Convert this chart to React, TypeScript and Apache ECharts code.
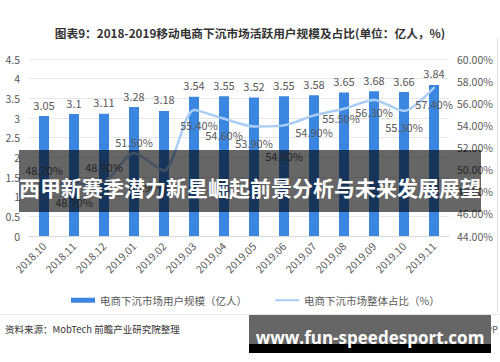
import React, { useEffect, useRef } from 'react';
import * as echarts from 'echarts';

const categories = ['2018.10', '2018.11', '2018.12', '2019.01', '2019.02', '2019.03', '2019.04', '2019.05', '2019.06', '2019.07', '2019.08', '2019.09', '2019.10', '2019.11'];
const userScale = [3.05, 3.1, 3.11, 3.28, 3.18, 3.54, 3.55, 3.52, 3.55, 3.58, 3.65, 3.68, 3.66, 3.84];
const shareRatio = [48.7, 48.7, 48.9, 51.5, 49.9, 55.4, 54.6, 53.9, 54.0, 54.9, 55.5, 56.3, 55.3, 57.4];
const barName = '电商下沉市场用户规模（亿人）';
const lineName = '电商下沉市场整体占比（%）';
const titleText = '图表9：2018-2019移动电商下沉市场活跃用户规模及占比(单位：亿人，%)';
const overlayText = '西甲新赛季潜力新星崛起前景分析与未来发展展望';
const bannerText = 'www.fun-speedesport.com';
const sourceText = '资料来源：MobTech 前瞻产业研究院整理';
const brandText = '@前瞻经济学人APP';

// label layout for line points (style only)
const lineLabelStyle: any[] = [
  { position: 'top', distance: 8 },
  { position: 'bottom', distance: 11 },
  { position: 'top', distance: 8 },
  { position: 'top', distance: 5 },
  { position: 'bottom', distance: 8, offset: [-16, 2] },
  { position: 'bottom', distance: 9, offset: [5, 0] },
  { position: 'bottom', distance: 10 },
  { position: 'bottom', distance: 10 },
  { position: 'bottom', distance: 24 },
  { position: 'bottom', distance: 10 },
  { position: 'bottom', distance: 3, offset: [-3, 0] },
  { position: 'bottom', distance: 6 },
  { position: 'bottom', distance: 10 },
  { position: 'bottom', distance: 10 },
];

const FONT = '"Noto Sans CJK SC", "Noto Sans", sans-serif';
const GRAY = '#595959';
const LINE_COLOR = '#a9cdf6';

export default function App() {
  const ref = useRef<HTMLDivElement>(null);
  useEffect(() => {
    if (!ref.current) return;
    const chart = echarts.init(ref.current, null, { renderer: 'svg' });
    chart.setOption({
      animation: false,
      backgroundColor: '#ffffff',
      textStyle: { fontFamily: FONT },
      title: {
        text: titleText,
        left: 'center',
        top: 22,
        textStyle: { fontSize: 11.7, fontWeight: 'bold', color: '#333333', fontFamily: FONT },
      },
      grid: { left: 29, right: 51, top: 59, bottom: 126, containLabel: false },
      legend: [
        {
          data: [{ name: barName, icon: 'rect' }],
          left: 66,
          top: 290,
          itemWidth: 24,
          itemHeight: 5,
          textStyle: { fontSize: 10.5, color: GRAY, fontFamily: FONT },
        },
        {
          data: [{ name: lineName, icon: 'rect', itemStyle: { color: LINE_COLOR, opacity: 1 } }],
          left: 270,
          top: 290,
          itemWidth: 24,
          itemHeight: 2,
          textStyle: { fontSize: 10.5, color: GRAY, fontFamily: FONT },
        },
      ],
      xAxis: {
        type: 'category',
        data: categories,
        axisTick: { show: false },
        axisLine: { lineStyle: { color: '#d9d9d9' } },
        axisLabel: { rotate: 45, interval: 0, color: GRAY, fontSize: 10.5, margin: 8, fontFamily: FONT },
      },
      yAxis: [
        {
          type: 'value',
          min: 0,
          max: 4.5,
          interval: 0.5,
          axisLine: { show: false },
          axisTick: { show: false },
          splitLine: { lineStyle: { color: '#e6e6e6' } },
          axisLabel: { color: GRAY, fontSize: 10.5, margin: 9, fontFamily: FONT },
        },
        {
          type: 'value',
          min: 44,
          max: 60,
          interval: 2,
          axisLine: { show: false },
          axisTick: { show: false },
          splitLine: { show: false },
          axisLabel: { color: GRAY, fontSize: 10.5, margin: 8, fontFamily: FONT, formatter: (v: number) => v.toFixed(2) + '%' },
        },
      ],
      series: [
        {
          name: barName,
          type: 'bar',
          data: userScale,
          barWidth: 10,
          itemStyle: { color: '#3b86e0' },
          label: { show: true, position: 'top', distance: 6, color: GRAY, fontSize: 11, fontFamily: FONT },
        },
        {
          name: lineName,
          type: 'line',
          yAxisIndex: 1,
          data: shareRatio.map((v, i) => ({ value: v, label: lineLabelStyle[i] })),
          smooth: 0.25,
          symbol: 'circle',
          symbolSize: 2,
          showSymbol: true,
          showAllSymbol: true,
          itemStyle: { color: LINE_COLOR },
          lineStyle: { color: LINE_COLOR, width: 2.5 },
          label: {
            show: true,
            color: GRAY,
            fontSize: 11,
            fontFamily: FONT,
            formatter: (p: any) => Number(p.value).toFixed(2) + '%',
          },
          z: 3,
        },
      ],
      graphic: [
        { type: 'line', shape: { x1: 497.5, y1: 38, x2: 497.5, y2: 313 }, style: { stroke: '#e2e2e2', lineWidth: 1 } },
        { type: 'line', shape: { x1: 0, y1: 314.5, x2: 500, y2: 314.5 }, style: { stroke: '#e8e8e8', lineWidth: 1 } },
        { type: 'text', left: 5, top: 324, style: { text: sourceText, fontSize: 9.5, fill: '#333333', fontFamily: FONT } },
        { type: 'text', right: 2, top: 324, style: { text: brandText, fontSize: 9.5, fill: '#555555', fontFamily: FONT } },
        {
          type: 'rect',
          shape: { x: 19, y: 150, width: 462, height: 62 },
          style: { fill: 'rgba(0,0,0,0.6)' },
          z: 100,
        },
        {
          type: 'text',
          x: 250,
          y: 187,
          style: {
            text: overlayText,
            fontSize: 21,
            fontWeight: 'bold',
            fill: '#ffffff',
            fontFamily: FONT,
            align: 'center',
            verticalAlign: 'middle',
          },
          z: 101,
        },
        { type: 'rect', shape: { x: 249, y: 315, width: 242, height: 29 }, style: { fill: '#666666' }, z: 100 },
        { type: 'rect', shape: { x: 249, y: 344, width: 242, height: 9 }, style: { fill: '#000000' }, z: 100 },
        {
          type: 'text',
          x: 370,
          y: 337,
          style: {
            text: bannerText,
            fontSize: 17,
            fontWeight: 'bold',
            fill: '#ffffff',
            fontFamily: '"Open Sans", "DejaVu Sans", sans-serif',
            align: 'center',
            verticalAlign: 'middle',
          },
          z: 101,
        },
      ],
    });
    return () => chart.dispose();
  }, []);
  return <div ref={ref} style={{ position: 'fixed', left: 0, top: 0, width: 500, height: 362 }} />;
}
